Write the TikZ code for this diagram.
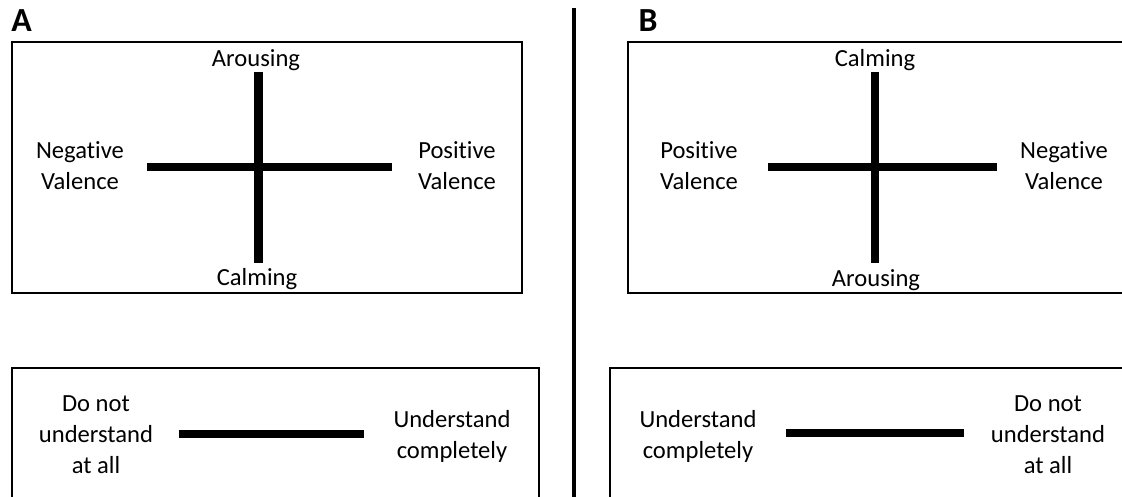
\documentclass[tikz,border=0pt]{standalone}
\usepackage{fontspec}
\setmainfont{Carlito}[Ligatures=NoCommon]
\usepackage{tikz}

\tikzset{
  thickbar/.style={line width=5.7pt},
  framebox/.style={line width=1.4pt},
  lbl/.style={align=center, inner sep=0pt, font=\fontsize{17.5}{22}\selectfont},
  panel/.style={inner sep=0pt, font=\fontsize{24}{28}\selectfont\bfseries}
}

\begin{document}
\begin{tikzpicture}
\useasboundingbox (0,0) rectangle (28.05,12.425);
\clip (0,0) rectangle (28.05,12.425);
%divider
\draw[line width=2.6pt] (14.35,12.225) -- (14.35,-1);
%panel letters
\node[panel,anchor=base] (labA) at (0.54,11.625) {A};
\node[panel,anchor=base] (labB) at (16.2,11.625) {B};
%A: grid
\draw[framebox] (0.29,11.375) rectangle (13.05,5.1);
\draw[thickbar] (6.4625,10.625) -- (6.4625,5.85);
\draw[thickbar] (3.675,8.2375) -- (9.8,8.2375);
\node[lbl,anchor=base] (aTop) at (6.4,10.75) {Arousing};
\node[lbl,anchor=base] (aBot) at (6.425,5.275) {Calming};
\node[lbl] (aLeft) at (2.0,8.275) {Negative\\Valence};
\node[lbl] (aRight) at (11.425,8.275) {Positive\\Valence};
%A: scale
\draw[framebox] (0.31,3.225) rectangle (13.475,-1);
\draw[thickbar] (4.475,1.575) -- (9.1,1.575);
\node[lbl] (aLow) at (2.4,1.55) {Do not\\understand\\at all};
\node[lbl] (aHigh) at (11.3,1.525) {Understand\\completely};
%B: grid
\draw[framebox] (15.7,11.375) rectangle (29,5.1);
\draw[thickbar] (21.875,10.625) -- (21.875,5.85);
\draw[thickbar] (19.2,8.2375) -- (24.925,8.2375);
\node[lbl,anchor=base] (bTop) at (21.875,10.75) {Calming};
\node[lbl,anchor=base] (bBot) at (21.9,5.25) {Arousing};
\node[lbl] (bLeft) at (17.475,8.275) {Positive\\Valence};
\node[lbl] (bRight) at (26.6,8.275) {Negative\\Valence};
%B: scale
\draw[framebox] (15.25,3.225) rectangle (29,-1);
\draw[thickbar] (19.65,1.6) -- (24.1,1.6);
\node[lbl] (bHigh) at (17.45,1.525) {Understand\\completely};
\node[lbl] (bLow) at (26.2,1.55) {Do not\\understand\\at all};
\end{tikzpicture}
\end{document}
